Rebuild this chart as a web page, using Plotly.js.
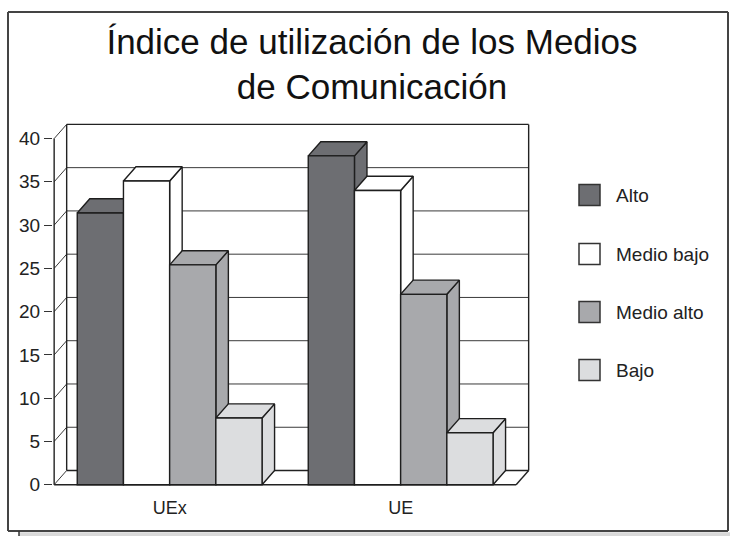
<!DOCTYPE html>
<html>
<head>
<meta charset="utf-8">
<script src="https://cdn.plot.ly/plotly-3.0.1.min.js"></script>
<style>html,body{margin:0;padding:0;background:#fff;}#chart{width:730px;height:536px;}</style>
</head>
<body>
<div id="chart"></div>
<script>
// ---- data ----
const categories = ['UEx', 'UE'];
const seriesNames = ['Alto', 'Medio bajo', 'Medio alto', 'Bajo'];
const alto = [31.4, 38.0];
const medioBajo = [35.1, 34.0];
const medioAlto = [25.4, 22.0];
const bajo = [7.7, 6.0];
const yTicks = [0, 5, 10, 15, 20, 25, 30, 35, 40];

// ---- styling ----
const seriesValues = [alto, medioBajo, medioAlto, bajo];
const colors = ['#6d6e72', '#ffffff', '#a8a9ac', '#dcdddf'];
const edge = '#1e1e1e';
const FONT = 'Liberation Sans, Arial, Helvetica, sans-serif';
const DX = 0.0542, DY = 1.64;        // depth offset in data units
const GROUP = 0.8, BW = GROUP / seriesNames.length;
const X0 = -0.5, X1 = categories.length - 0.5, YMAX = 40;
const catIdx = categories.map((c, i) => i);

// plot area geometry in pixels (for paper conversions of decorations)
const M = {l: 53, r: 200, t: 123, b: 50};
const W = 730, H = 536;
const pw = W - M.l - M.r, ph = H - M.t - M.b;
const px = v => (v - M.l) / pw;
const py = v => (H - M.b - v) / ph;

const traces = [];

// walls and floor
const wx = [], wy = [];
function seg(a, b, c, d) { wx.push(a, c, null); wy.push(b, d, null); }
seg(X0, 0, X0, YMAX);
seg(X0 + DX, DY, X0 + DX, YMAX + DY);
seg(X0 + DX, YMAX + DY, X1 + DX, YMAX + DY);
seg(X1 + DX, YMAX + DY, X1 + DX, DY);
seg(X0 + DX, DY, X1 + DX, DY);
seg(X0, 0, X1, 0);
seg(X1, 0, X1 + DX, DY);
const gx = [], gy = [];
yTicks.forEach(v => {
  gx.push(X0, X0 + DX, null); gy.push(v, v + DY, null);
  if (v > 0 && v < YMAX) { gx.push(X0 + DX, X1 + DX, null); gy.push(v + DY, v + DY, null); }
});
traces.push({type: 'scatter', mode: 'lines', x: gx, y: gy, line: {color: '#3a3a3a', width: 1},
  hoverinfo: 'skip', showlegend: false, xaxis: 'x', yaxis: 'y'});
traces.push({type: 'scatter', mode: 'lines', x: wx, y: wy, line: {color: '#222', width: 1.4},
  hoverinfo: 'skip', showlegend: false, xaxis: 'x', yaxis: 'y'});

function offsetOf(i) { return -GROUP / 2 + i * BW; }

// side faces
seriesValues.forEach((vals, i) => {
  const x = [], y = [];
  vals.forEach((v, c) => {
    const xr = catIdx[c] + offsetOf(i) + BW;
    x.push(xr, xr, xr + DX, xr + DX, xr, null);
    y.push(0, v, v + DY, DY, 0, null);
  });
  traces.push({type: 'scatter', mode: 'lines', x, y, fill: 'toself', fillcolor: colors[i],
    line: {color: edge, width: 1.4}, hoverinfo: 'skip', showlegend: false, xaxis: 'x', yaxis: 'y'});
});
// top faces
seriesValues.forEach((vals, i) => {
  const x = [], y = [];
  vals.forEach((v, c) => {
    const xl = catIdx[c] + offsetOf(i), xr = xl + BW;
    x.push(xl, xr, xr + DX, xl + DX, xl, null);
    y.push(v, v, v + DY, v + DY, v, null);
  });
  traces.push({type: 'scatter', mode: 'lines', x, y, fill: 'toself', fillcolor: colors[i],
    line: {color: edge, width: 1.4}, hoverinfo: 'skip', showlegend: false, xaxis: 'x', yaxis: 'y'});
});
// front faces (bars) on overlay axes so they sit on top
seriesValues.forEach((vals, i) => {
  traces.push({type: 'bar', name: seriesNames[i], x: catIdx, y: vals, width: BW, offset: offsetOf(i),
    marker: {color: colors[i], line: {color: edge, width: 1.4}}, showlegend: false,
    xaxis: 'x2', yaxis: 'y2', hovertemplate: '%{y}<extra>' + seriesNames[i] + '</extra>'});
});

const xRange = [-0.505, 1.56];
const yRange = [-0.15, 41.8];

// legend (drawn manually to match the large keys)
const legendY = [195, 254, 312, 370];
const shapes = [
  {type: 'line', xref: 'paper', yref: 'paper', x0: px(8), x1: px(8), y0: py(531), y1: py(12),
   line: {color: '#444', width: 2}},
  {type: 'line', xref: 'paper', yref: 'paper', x0: px(728), x1: px(728), y0: py(531), y1: py(12),
   line: {color: '#444', width: 2}},
  {type: 'line', xref: 'paper', yref: 'paper', x0: px(8), x1: px(728), y0: py(12), y1: py(12),
   line: {color: '#444', width: 2}},
  {type: 'line', xref: 'paper', yref: 'paper', x0: px(8), x1: px(728), y0: py(531), y1: py(531),
   line: {color: '#444', width: 2}},
  {type: 'rect', xref: 'paper', yref: 'paper', x0: px(19), x1: px(745), y0: py(545), y1: py(532.2),
   line: {width: 0}, fillcolor: '#d9d9d9', layer: 'below'},
  {type: 'line', xref: 'paper', yref: 'paper', x0: px(19), x1: px(19), y0: py(545), y1: py(531),
   line: {color: '#333', width: 1.5}}
];
const annotations = [];
seriesNames.forEach((n, i) => {
  shapes.push({type: 'rect', xref: 'paper', yref: 'paper', x0: px(579), x1: px(600),
    y0: py(legendY[i] + 10.5), y1: py(legendY[i] - 10.5),
    fillcolor: colors[i], line: {color: '#333', width: 1.5}});
  annotations.push({xref: 'paper', yref: 'paper', x: px(614), y: py(legendY[i]), xanchor: 'left', yanchor: 'middle',
    text: n, showarrow: false, font: {family: FONT, size: 19, color: '#222'}});
});

const layout = {
  width: W, height: H,
  margin: M,
  paper_bgcolor: '#fff', plot_bgcolor: 'rgba(0,0,0,0)',
  font: {family: FONT, size: 18, color: '#222'},
  title: {text: 'Índice de utilización de los Medios<br>de Comunicación', xref: 'container', yref: 'container',
    x: 372 / 730, xanchor: 'center', y: 0.9, yanchor: 'top',
    font: {family: FONT, size: 35, color: '#111'}},
  showlegend: false,
  barmode: 'overlay',
  xaxis: {range: xRange, tickvals: catIdx, ticktext: categories, showgrid: false, zeroline: false,
    showline: false, ticks: '', ticklabelstandoff: 9, tickfont: {size: 18, color: '#222'}, fixedrange: true},
  yaxis: {range: yRange, tickvals: yTicks, showgrid: false, zeroline: false, showline: false,
    ticks: 'outside', ticklen: 8, tickwidth: 1.2, tickcolor: '#333', tickfont: {size: 19, color: '#222'}, fixedrange: true},
  xaxis2: {range: xRange, overlaying: 'x', visible: false, fixedrange: true},
  yaxis2: {range: yRange, overlaying: 'y', visible: false, fixedrange: true},
  shapes, annotations
};

Plotly.newPlot('chart', traces, layout, {displayModeBar: false, staticPlot: true});
</script>
</body>
</html>
